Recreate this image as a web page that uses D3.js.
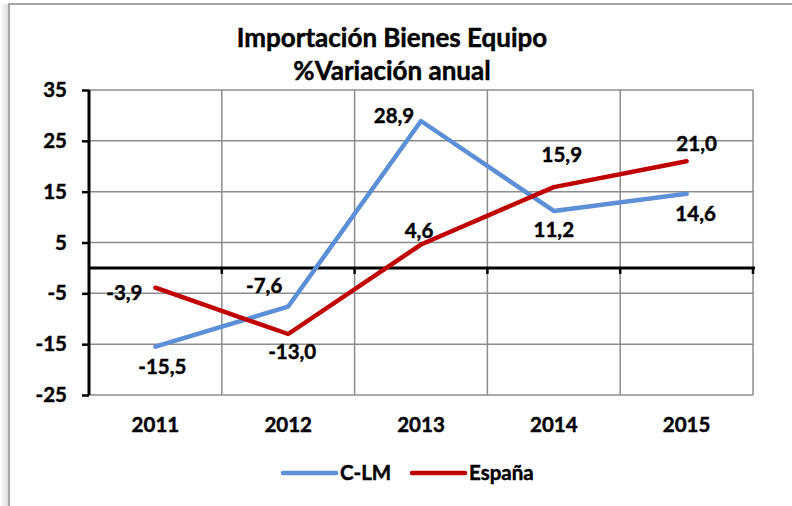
<!DOCTYPE html>
<html>
<head>
<meta charset="utf-8">
<script src="https://cdn.jsdelivr.net/npm/d3@7"></script>
<style>
  html, body { margin: 0; padding: 0; background: #fff; }
  svg { display: block; font-family: Lato, "Open Sans", sans-serif; font-weight: bold; }
  svg text { fill: #000; stroke: #000; stroke-width: 0.45px; }
</style>
</head>
<body>
<svg id="chart" width="792" height="506"></svg>
<script>
// data
const years = ["2011", "2012", "2013", "2014", "2015"];
const clm = [-15.5, -7.6, 28.9, 11.2, 14.6];
const espana = [-3.9, -13.0, 4.6, 15.9, 21.0];
const yTicks = [-25, -15, -5, 5, 15, 25, 35];
const titleLines = ["Importación Bienes Equipo", "%Variación anual"];

// label offsets (dx, dy) relative to the point, layout only
const clmLabelPos = [[7, 27], [-24, -14], [-27, 2], [0, 26], [9, 27]];
const espLabelPos = [[-31, 12], [4, 25], [-2, -7], [8, -25], [10, -10]];

const series = [
  { name: "C-LM", values: clm, color: "#5B8FD8", labels: clmLabelPos },
  { name: "España", values: espana, color: "#C00000", labels: espLabelPos }
];

const plot = { left: 89, right: 753, top: 90, bottom: 395 };
const fs = 20.5;
const svg = d3.select("#chart");

// outer frame with a little shadow on the left
const defs = svg.append("defs");
const grad = defs.append("linearGradient").attr("id", "shadow");
grad.append("stop").attr("offset", "0%").attr("stop-color", "#fff");
grad.append("stop").attr("offset", "100%").attr("stop-color", "#d9d9d9");
svg.append("rect").attr("x", 0).attr("y", 4).attr("width", 9).attr("height", 510).attr("fill", "url(#shadow)");
svg.append("rect")
  .attr("x", 9).attr("y", 4).attr("width", 800).attr("height", 520)
  .attr("fill", "#fff").attr("stroke", "#a6a6a6").attr("stroke-width", 2);

const x = d3.scaleBand().domain(years).range([plot.left, plot.right]);
const y = d3.scaleLinear().domain([-25, 35]).range([plot.bottom, plot.top]);
const cx = d => x(d) + x.bandwidth() / 2;

// gridlines
svg.append("g").selectAll("line").data(yTicks).join("line")
  .attr("x1", plot.left).attr("x2", plot.right)
  .attr("y1", d => y(d)).attr("y2", d => y(d))
  .attr("stroke", "#8c8c8c").attr("stroke-width", 1.5);
const bounds = years.map(d => x(d)).concat([plot.right]);
svg.append("g").selectAll("line").data(bounds.slice(1)).join("line")
  .attr("x1", d => d).attr("x2", d => d)
  .attr("y1", plot.top).attr("y2", plot.bottom)
  .attr("stroke", "#8c8c8c").attr("stroke-width", 1.5);

// y axis
const yAxis = svg.append("g")
  .attr("transform", `translate(${plot.left},0)`)
  .call(d3.axisLeft(y).tickValues(yTicks).tickSize(7).tickPadding(15).tickFormat(d => String(d)));
yAxis.select(".domain").attr("stroke", "#000").attr("stroke-width", 3).attr("d", `M0,${plot.top}V${plot.bottom}`);
yAxis.selectAll(".tick line").attr("stroke", "#000").attr("stroke-width", 2.5);
yAxis.selectAll("text").attr("font-size", fs).attr("font-family", "Lato").attr("font-weight", "bold");

// zero line acting as x axis
const xAxis = svg.append("g")
  .attr("transform", `translate(0,${y(0)})`);
xAxis.append("line")
  .attr("x1", plot.left).attr("x2", plot.right + 2)
  .attr("stroke", "#000").attr("stroke-width", 3);
xAxis.selectAll(".xt").data(bounds.slice(1)).join("line")
  .attr("class", "xt")
  .attr("x1", d => d).attr("x2", d => d).attr("y1", 0).attr("y2", 6)
  .attr("stroke", "#000").attr("stroke-width", 2.5);

// category labels
svg.append("g").selectAll("text").data(years).join("text")
  .attr("x", d => cx(d)).attr("y", 432)
  .attr("text-anchor", "middle").attr("font-size", fs)
  .text(d => d);

// lines
const line = d3.line().x((d, i) => cx(years[i])).y(d => y(d));
series.forEach(s => {
  svg.append("path")
    .attr("d", line(s.values))
    .attr("fill", "none").attr("stroke", s.color)
    .attr("stroke-width", 4.5).attr("stroke-linejoin", "round").attr("stroke-linecap", "round");
});

// data labels
const fmt = v => v.toFixed(1).replace(".", ",");
series.forEach(s => {
  svg.append("g").selectAll("text").data(s.values).join("text")
    .attr("x", (d, i) => cx(years[i]) + s.labels[i][0])
    .attr("y", (d, i) => y(d) + s.labels[i][1])
    .attr("text-anchor", "middle").attr("font-size", fs)
    .text(d => fmt(d));
});

// title
svg.append("g").selectAll("text").data(titleLines).join("text")
  .attr("x", 392).attr("y", (d, i) => 47 + i * 33)
  .attr("text-anchor", "middle").attr("font-size", 26)
  .text(d => d);

// legend
const legend = svg.append("g");
const legX = [283, 412];
series.forEach((s, i) => {
  legend.append("line")
    .attr("x1", legX[i]).attr("x2", legX[i] + 53).attr("y1", 473).attr("y2", 473)
    .attr("stroke", s.color).attr("stroke-width", 4.5).attr("stroke-linecap", "round");
  legend.append("text")
    .attr("x", legX[i] + 57).attr("y", 480)
    .attr("font-size", fs)
    .text(s.name);
});
</script>
</body>
</html>
